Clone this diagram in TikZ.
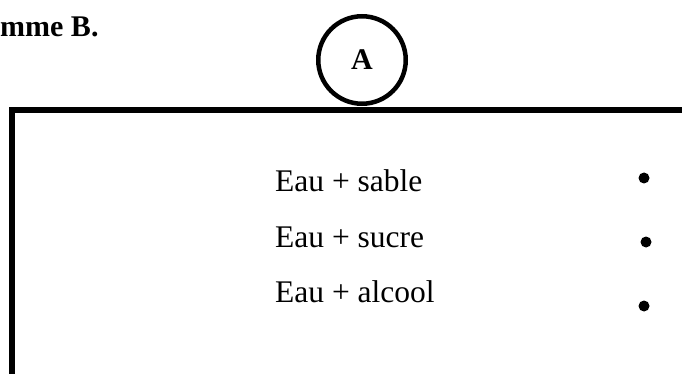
\documentclass[tikz,border=0pt]{standalone}
\usepackage{fontspec}
\setmainfont{Liberation Serif}
\usepackage{tikz}
\usetikzlibrary{positioning}

\tikzset{
  melange/.style={anchor=base west, inner sep=0pt, font=\fontsize{31.5}{36}\selectfont},
  point/.style={circle, fill=black, inner sep=0pt, minimum size=11pt},
  bulle/.style={circle, draw, line width=4.5pt, minimum size=87.5pt, inner sep=0pt,
    font=\fontsize{30}{36}\selectfont\bfseries}
}

\begin{document}
\begin{tikzpicture}[x=1pt,y=1pt]
\useasboundingbox (0,0) rectangle (682,-374);
% le cadre
\begin{scope}
\clip (0,0) rectangle (682,-374);
\draw[line width=5.5pt] (12,-400) -- (12,-110) -- (700,-110);
\end{scope}
% titre
\node[anchor=base west, inner sep=0pt, font=\fontsize{30}{36}\selectfont\bfseries] (titre) at (0,-37) {mme B.};
\node[bulle] (A) at (362,-60) {\raisebox{-6pt}{A}};
% les melanges
\node[melange] (sable) at (275,-192) {Eau + sable};
\node[melange] (sucre) at (275,-247) {Eau + sucre};
\node[melange] (alcool) at (275,-302) {Eau + alcool};
% les points
\node[point] (p1) at (644,-178) {};
\node[point] (p2) at (646,-242) {};
\node[point] (p3) at (644,-306) {};
\end{tikzpicture}
\end{document}
